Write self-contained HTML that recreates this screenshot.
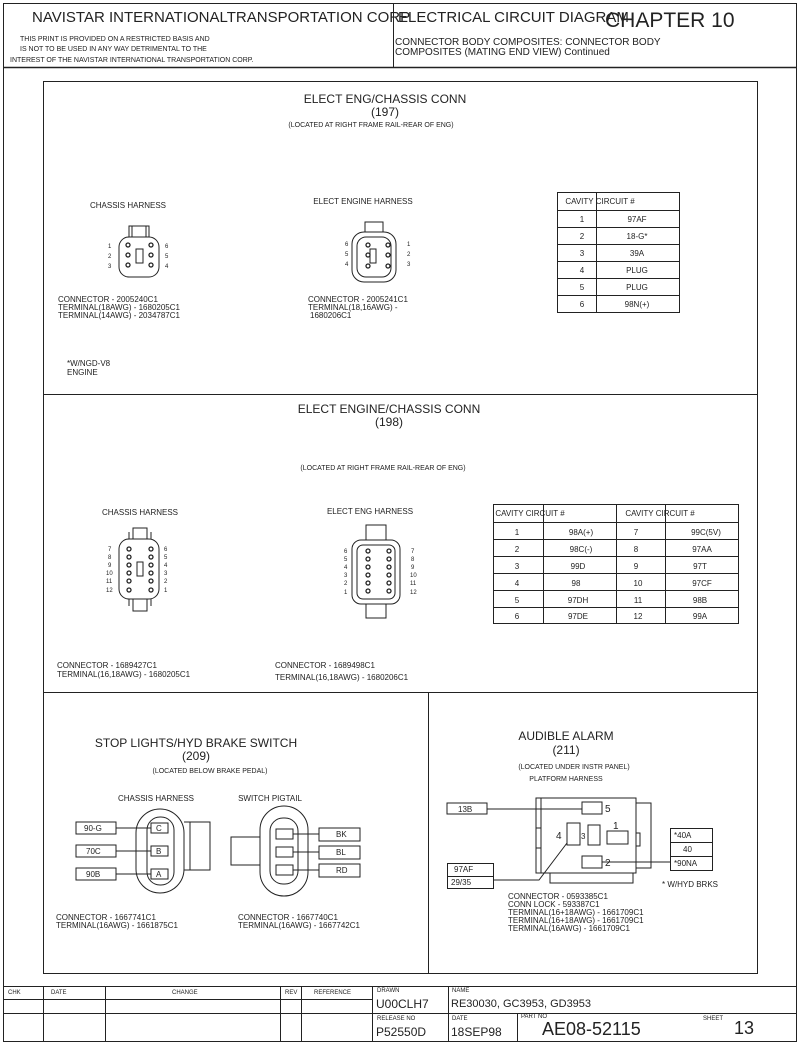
<!DOCTYPE html>
<html><head><meta charset="utf-8"><style>
html,body{margin:0;padding:0;background:#fff}
svg{display:block}
text{font-family:"Liberation Sans",sans-serif;fill:#222}
</style></head><body>
<svg width="800" height="1045" viewBox="0 0 800 1045" xmlns="http://www.w3.org/2000/svg">
<g fill="none" stroke="#222" stroke-width="1">
<rect x="3.5" y="3.5" width="793" height="1038"/>
<line x1="3" y1="67.5" x2="797" y2="67.5" stroke-width="1.5"/>
<line x1="393.5" y1="3" x2="393.5" y2="67"/>
<rect x="43.5" y="81.5" width="714" height="892"/>
<line x1="43" y1="394.5" x2="757" y2="394.5"/>
<line x1="43" y1="692.5" x2="757" y2="692.5"/>
<line x1="428.5" y1="692" x2="428.5" y2="973"/>
<!-- title block -->
<line x1="3" y1="986.5" x2="797" y2="986.5"/>
<line x1="3" y1="999.5" x2="372" y2="999.5"/>
<line x1="3" y1="1013.5" x2="797" y2="1013.5"/>
<line x1="43.5" y1="986" x2="43.5" y2="1042"/>
<line x1="105.5" y1="986" x2="105.5" y2="1042"/>
<line x1="280.5" y1="986" x2="280.5" y2="1042"/>
<line x1="301.5" y1="986" x2="301.5" y2="1042"/>
<line x1="372.5" y1="986" x2="372.5" y2="1042"/>
<line x1="448.5" y1="986" x2="448.5" y2="1042"/>
<line x1="517.5" y1="1013" x2="517.5" y2="1042"/>
</g>
<!-- header text -->
<text x="32" y="22" font-size="15">NAVISTAR INTERNATIONALTRANSPORTATION CORP</text>
<text x="398" y="22" font-size="15">ELECTRICAL CIRCUIT DIAGRAM</text>
<text x="605" y="27" font-size="21">CHAPTER 10</text>
<text x="20" y="41" font-size="7">THIS PRINT IS PROVIDED ON A RESTRICTED BASIS AND</text>
<text x="20" y="51" font-size="7">IS NOT TO BE USED IN ANY WAY DETRIMENTAL TO THE</text>
<text x="10" y="62" font-size="7">INTEREST OF THE NAVISTAR INTERNATIONAL TRANSPORTATION CORP.</text>
<text x="395" y="45" font-size="10">CONNECTOR BODY COMPOSITES: CONNECTOR BODY</text>
<text x="395" y="55" font-size="10">COMPOSITES (MATING END VIEW) Continued</text>

<!-- 197 -->
<text x="385" y="103" font-size="12" text-anchor="middle">ELECT ENG/CHASSIS CONN</text>
<text x="385" y="116" font-size="12" text-anchor="middle">(197)</text>
<text x="371" y="127" font-size="7" text-anchor="middle">(LOCATED AT RIGHT FRAME RAIL-REAR OF ENG)</text>
<text x="128" y="208" font-size="8" text-anchor="middle">CHASSIS HARNESS</text>
<text x="363" y="204" font-size="8" text-anchor="middle">ELECT ENGINE HARNESS</text>
<g fill="none" stroke="#222">
<rect x="119" y="237" width="40" height="40" rx="10"/>
<path d="M129 237V226h20v11M132 226v11M146 226v11"/>
<rect x="136" y="249" width="7" height="14"/>
<rect x="352" y="232" width="44" height="50" rx="12"/>
<rect x="357" y="237" width="34" height="40" rx="9"/>
<path d="M365 232V222h18v10"/>
<rect x="370" y="249" width="6" height="14"/>
</g>
<g fill="#222" font-size="6">
<text x="108" y="248">1</text><text x="108" y="258">2</text><text x="108" y="268">3</text>
<text x="165" y="248">6</text><text x="165" y="258">5</text><text x="165" y="268">4</text>
<text x="345" y="246">6</text><text x="345" y="256">5</text><text x="345" y="266">4</text>
<text x="407" y="246">1</text><text x="407" y="256">2</text><text x="407" y="266">3</text>
</g>
<g fill="none" stroke="#222" stroke-width="1.3">
<circle cx="128" cy="245" r="2"/><circle cx="128" cy="255" r="2"/><circle cx="128" cy="265" r="2"/>
<circle cx="151" cy="245" r="2"/><circle cx="151" cy="255" r="2"/><circle cx="151" cy="265" r="2"/>
<circle cx="368" cy="245" r="2"/><circle cx="368" cy="255" r="2"/><circle cx="368" cy="266" r="2"/>
<circle cx="388" cy="245" r="2"/><circle cx="388" cy="255" r="2"/><circle cx="388" cy="266" r="2"/>
</g>
<g font-size="8">
<text x="58" y="302">CONNECTOR - 2005240C1</text>
<text x="58" y="310">TERMINAL(18AWG) - 1680205C1</text>
<text x="58" y="318">TERMINAL(14AWG) - 2034787C1</text>
<text x="308" y="302">CONNECTOR - 2005241C1</text>
<text x="308" y="310">TERMINAL(18,16AWG) -</text>
<text x="310" y="318">1680206C1</text>
<text x="67" y="366">*W/NGD-V8</text>
<text x="67" y="375">ENGINE</text>
</g>
<g fill="none" stroke="#222">
<rect x="557.5" y="192.5" width="122" height="120"/>
<line x1="596.5" y1="192" x2="596.5" y2="312"/>
<path d="M557 210.5h122M557 227.5h122M557 244.5h122M557 261.5h122M557 278.5h122M557 295.5h122"/>
</g>
<g font-size="8" text-anchor="middle">
<text x="600" y="204">CAVITY CIRCUIT #</text>
<text x="582" y="222">1</text><text x="637" y="222">97AF</text>
<text x="582" y="239">2</text><text x="637" y="239">18-G*</text>
<text x="582" y="256">3</text><text x="637" y="256">39A</text>
<text x="582" y="273">4</text><text x="637" y="273">PLUG</text>
<text x="582" y="290">5</text><text x="637" y="290">PLUG</text>
<text x="582" y="307">6</text><text x="637" y="307">98N(+)</text>
</g>

<!-- 198 -->
<text x="389" y="413" font-size="12" text-anchor="middle">ELECT ENGINE/CHASSIS CONN</text>
<text x="389" y="426" font-size="12" text-anchor="middle">(198)</text>
<text x="383" y="470" font-size="7" text-anchor="middle">(LOCATED AT RIGHT FRAME RAIL-REAR OF ENG)</text>
<text x="140" y="515" font-size="8" text-anchor="middle">CHASSIS HARNESS</text>
<text x="370" y="514" font-size="8" text-anchor="middle">ELECT ENG HARNESS</text>
<g fill="none" stroke="#222">
<rect x="119" y="539" width="40" height="60" rx="10"/>
<path d="M133 539v-11h14v11M129 539v-7M151 539v-7M133 599v12h14v-12M129 599v7M151 599v7"/>
<rect x="137" y="562" width="6" height="14"/>
<rect x="352" y="540" width="48" height="64" rx="9"/>
<rect x="357" y="545" width="38" height="54" rx="6"/>
<rect x="366" y="525" width="20" height="15"/>
<rect x="366" y="604" width="20" height="14"/>
</g>
<g fill="none" stroke="#222" stroke-width="1.3">
<circle cx="129" cy="549" r="2"/><circle cx="129" cy="557" r="2"/><circle cx="129" cy="565" r="2"/><circle cx="129" cy="573" r="2"/><circle cx="129" cy="581" r="2"/><circle cx="129" cy="590" r="2"/>
<circle cx="151" cy="549" r="2"/><circle cx="151" cy="557" r="2"/><circle cx="151" cy="565" r="2"/><circle cx="151" cy="573" r="2"/><circle cx="151" cy="581" r="2"/><circle cx="151" cy="590" r="2"/>
<circle cx="368" cy="551" r="2"/><circle cx="368" cy="559" r="2"/><circle cx="368" cy="567" r="2"/><circle cx="368" cy="575" r="2"/><circle cx="368" cy="583" r="2"/><circle cx="368" cy="591" r="2"/>
<circle cx="389" cy="551" r="2"/><circle cx="389" cy="559" r="2"/><circle cx="389" cy="567" r="2"/><circle cx="389" cy="575" r="2"/><circle cx="389" cy="583" r="2"/><circle cx="389" cy="591" r="2"/>
</g>
<g font-size="6">
<text x="108" y="551">7</text><text x="108" y="559">8</text><text x="108" y="567">9</text><text x="106" y="575">10</text><text x="106" y="583">11</text><text x="106" y="592">12</text>
<text x="164" y="551">6</text><text x="164" y="559">5</text><text x="164" y="567">4</text><text x="164" y="575">3</text><text x="164" y="583">2</text><text x="164" y="592">1</text>
<text x="344" y="553">6</text><text x="344" y="561">5</text><text x="344" y="569">4</text><text x="344" y="577">3</text><text x="344" y="585">2</text><text x="344" y="594">1</text>
<text x="411" y="553">7</text><text x="411" y="561">8</text><text x="411" y="569">9</text><text x="410" y="577">10</text><text x="410" y="585">11</text><text x="410" y="594">12</text>
</g>
<g font-size="8">
<text x="57" y="668">CONNECTOR - 1689427C1</text>
<text x="57" y="677">TERMINAL(16,18AWG) - 1680205C1</text>
<text x="275" y="668">CONNECTOR - 1689498C1</text>
<text x="275" y="680">TERMINAL(16,18AWG) - 1680206C1</text>
</g>
<g fill="none" stroke="#222">
<rect x="493.5" y="504.5" width="245" height="119"/>
<path d="M543.5 504v119M616.5 504v119M665.5 504v119"/>
<path d="M493 522.5h245M493 539.5h245M493 556.5h245M493 573.5h245M493 590.5h245M493 607.5h245"/>
</g>
<g font-size="8" text-anchor="middle">
<text x="530" y="516">CAVITY CIRCUIT #</text><text x="660" y="516">CAVITY CIRCUIT #</text>
<text x="517" y="535">1</text><text x="581" y="535">98A(+)</text><text x="636" y="535">7</text><text x="706" y="535">99C(5V)</text>
<text x="517" y="552">2</text><text x="581" y="552">98C(-)</text><text x="636" y="552">8</text><text x="702" y="552">97AA</text>
<text x="517" y="569">3</text><text x="578" y="569">99D</text><text x="636" y="569">9</text><text x="700" y="569">97T</text>
<text x="517" y="586">4</text><text x="576" y="586">98</text><text x="638" y="586">10</text><text x="702" y="586">97CF</text>
<text x="517" y="603">5</text><text x="578" y="603">97DH</text><text x="638" y="603">11</text><text x="700" y="603">98B</text>
<text x="517" y="619">6</text><text x="578" y="619">97DE</text><text x="638" y="619">12</text><text x="700" y="619">99A</text>
</g>

<!-- 209 -->
<text x="196" y="747" font-size="12" text-anchor="middle">STOP LIGHTS/HYD BRAKE SWITCH</text>
<text x="196" y="760" font-size="12" text-anchor="middle">(209)</text>
<text x="210" y="773" font-size="7" text-anchor="middle">(LOCATED BELOW BRAKE PEDAL)</text>
<text x="156" y="801" font-size="8" text-anchor="middle">CHASSIS HARNESS</text>
<text x="270" y="801" font-size="8" text-anchor="middle">SWITCH PIGTAIL</text>
<g fill="none" stroke="#222">
<rect x="136" y="809" width="48" height="84" rx="24"/>
<rect x="147" y="817" width="27" height="68" rx="13"/>
<path d="M184 822h26v48h-26M190 822v48"/>
<rect x="151" y="823" width="17" height="10"/><rect x="151" y="846" width="17" height="10"/><rect x="151" y="869" width="17" height="10"/>
<rect x="76" y="822" width="40" height="12"/><rect x="76" y="845" width="40" height="12"/><rect x="76" y="868" width="40" height="12"/>
<path d="M116 828h35M116 851h35M116 874h35"/>
<rect x="260" y="806" width="48" height="90" rx="24"/>
<rect x="270" y="818" width="28" height="66" rx="13"/>
<path d="M260 837h-29v28h29"/>
<rect x="276" y="829" width="17" height="10"/><rect x="276" y="847" width="17" height="10"/><rect x="276" y="865" width="17" height="10"/>
<rect x="319" y="828" width="41" height="13"/><rect x="319" y="846" width="41" height="13"/><rect x="319" y="864" width="41" height="13"/>
<path d="M293 834h26M293 852h26M293 870h26"/>
</g>
<g font-size="8">
<text x="84" y="831">90-G</text><text x="86" y="854">70C</text><text x="86" y="877">90B</text>
<text x="156" y="831">C</text><text x="156" y="854">B</text><text x="156" y="877">A</text>
<text x="336" y="837">BK</text><text x="336" y="855">BL</text><text x="336" y="873">RD</text>
<text x="56" y="920">CONNECTOR - 1667741C1</text>
<text x="56" y="928">TERMINAL(16AWG) - 1661875C1</text>
<text x="238" y="920">CONNECTOR - 1667740C1</text>
<text x="238" y="928">TERMINAL(16AWG) - 1667742C1</text>
</g>

<!-- 211 -->
<text x="566" y="740" font-size="12" text-anchor="middle">AUDIBLE ALARM</text>
<text x="566" y="754" font-size="12" text-anchor="middle">(211)</text>
<text x="574" y="769" font-size="7" text-anchor="middle">(LOCATED UNDER INSTR PANEL)</text>
<text x="566" y="781" font-size="7" text-anchor="middle">PLATFORM HARNESS</text>
<g fill="none" stroke="#222">
<rect x="536" y="798" width="100" height="75"/>
<path d="M541 798v75M536 828h5M536 848h5M636 803h15v65h-15M550 873v10h83v-10M636 833h4v13h-4"/>
<rect x="582" y="802" width="20" height="12"/>
<rect x="567" y="823" width="13" height="22"/>
<rect x="588" y="825" width="12" height="20"/>
<rect x="607" y="831" width="21" height="13"/>
<rect x="582" y="856" width="20" height="12"/>
<rect x="447" y="803" width="40" height="11"/>
<path d="M487 809h95M602 862h68M567 843l-28 37h-46"/>
<rect x="447.5" y="863.5" width="46" height="25"/><line x1="447" y1="876.5" x2="494" y2="876.5"/>
<rect x="670.5" y="828.5" width="42" height="42"/><path d="M670 842.5h42M670 856.5h42"/>
</g>
<g font-size="8">
<text x="458" y="812">13B</text>
<text x="605" y="812" font-size="10">5</text>
<text x="556" y="839" font-size="10">4</text>
<text x="581" y="839">3</text>
<text x="613" y="829" font-size="10">1</text>
<text x="605" y="866" font-size="10">2</text>
<text x="454" y="872">97AF</text><text x="451" y="885">29/35</text>
<text x="674" y="838">*40A</text><text x="683" y="852">40</text><text x="674" y="866">*90NA</text>
<text x="662" y="887">* W/HYD BRKS</text>
<text x="508" y="899">CONNECTOR - 0593385C1</text>
<text x="508" y="907">CONN LOCK - 593387C1</text>
<text x="508" y="915">TERMINAL(16+18AWG) - 1661709C1</text>
<text x="508" y="923">TERMINAL(16+18AWG) - 1661709C1</text>
<text x="508" y="931">TERMINAL(16AWG) - 1661709C1</text>
</g>

<!-- title block text -->
<g font-size="6">
<text x="8" y="994">CHK</text><text x="51" y="994">DATE</text><text x="172" y="994">CHANGE</text>
<text x="285" y="994">REV</text><text x="314" y="994">REFERENCE</text>
<text x="377" y="992">DRAWN</text><text x="452" y="992">NAME</text>
<text x="377" y="1020">RELEASE NO</text><text x="452" y="1020">DATE</text>
<text x="521" y="1018">PART NO</text><text x="703" y="1020">SHEET</text>
</g>
<text x="376" y="1008" font-size="12">U00CLH7</text>
<text x="451" y="1007" font-size="11" fill="#444">RE30030, GC3953, GD3953</text>
<text x="376" y="1036" font-size="12">P52550D</text>
<text x="451" y="1036" font-size="12">18SEP98</text>
<text x="542" y="1035" font-size="18">AE08-52115</text>
<text x="734" y="1034" font-size="18">13</text>
</svg>
</body></html>
